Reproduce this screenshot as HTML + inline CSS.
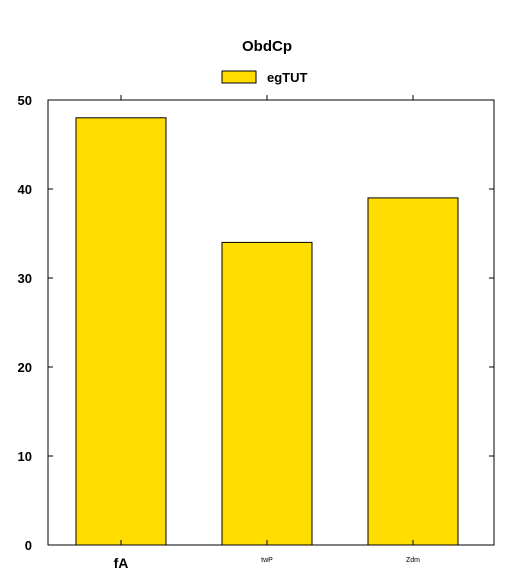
<!DOCTYPE html>
<html><head><meta charset="utf-8"><style>body{margin:0;background:#fff}svg{display:block;font-family:"Liberation Sans",sans-serif}</style></head>
<body>
<svg id="chart" width="511" height="584">
<rect x="0" y="0" width="511" height="584" fill="#fff"/>
<text x="267" y="51" text-anchor="middle" font-size="15" font-weight="bold">ObdCp</text>
<g>
<rect x="222" y="71" width="34" height="12" fill="#FFDD00" stroke="#000"/>
<text x="267" y="82" font-size="13" font-weight="bold">egTUT</text>
</g>
<g id="plot"></g>
</svg>
<script>
const categories = ["fA","twP","Zdm"];
const values = [48,34,39];
const yTicks = [0,10,20,30,40,50];
const L=48,R=494,T=100,B=545,yMax=50;
const y=v=>B-(v/yMax)*(B-T);
const step=146;
const x=i=>L+73+step*i;
const bw=90;
const g=document.getElementById('plot');
const ns='http://www.w3.org/2000/svg';
function mk(t,a){const e=document.createElementNS(ns,t);for(const k in a)e.setAttribute(k,a[k]);g.appendChild(e);return e;}
values.forEach((v,i)=>{
  const r=mk('rect',{x:x(i)-bw/2,y:y(v),width:bw,height:B-y(v),fill:'#FFDD00',stroke:'#000','stroke-width':1});
  
  
});
mk('rect',{x:L,y:T,width:R-L,height:B-T,fill:'none',stroke:'#000','stroke-width':1});
yTicks.forEach(t=>{
  mk('line',{x1:L,x2:L+5,y1:y(t),y2:y(t),stroke:'#000'});
  mk('line',{x1:R,x2:R-5,y1:y(t),y2:y(t),stroke:'#000'});
  const tx=mk('text',{x:L-16,y:y(t)+5,'text-anchor':'end','font-size':13,'font-weight':'bold'});
  tx.textContent=t;
  
  
});
categories.forEach((c,i)=>{
  mk('line',{x1:x(i),x2:x(i),y1:B,y2:B-5,stroke:'#000'});
  mk('line',{x1:x(i),x2:x(i),y1:T,y2:T-5,stroke:'#000'});
  const big=i===0;
  const tx=mk('text',{x:x(i),y:big?568:562,'text-anchor':'middle','font-size':big?14:7,'font-weight':big?'bold':'normal'});
  tx.textContent=c;
  
  
});
</script>
</body></html>
